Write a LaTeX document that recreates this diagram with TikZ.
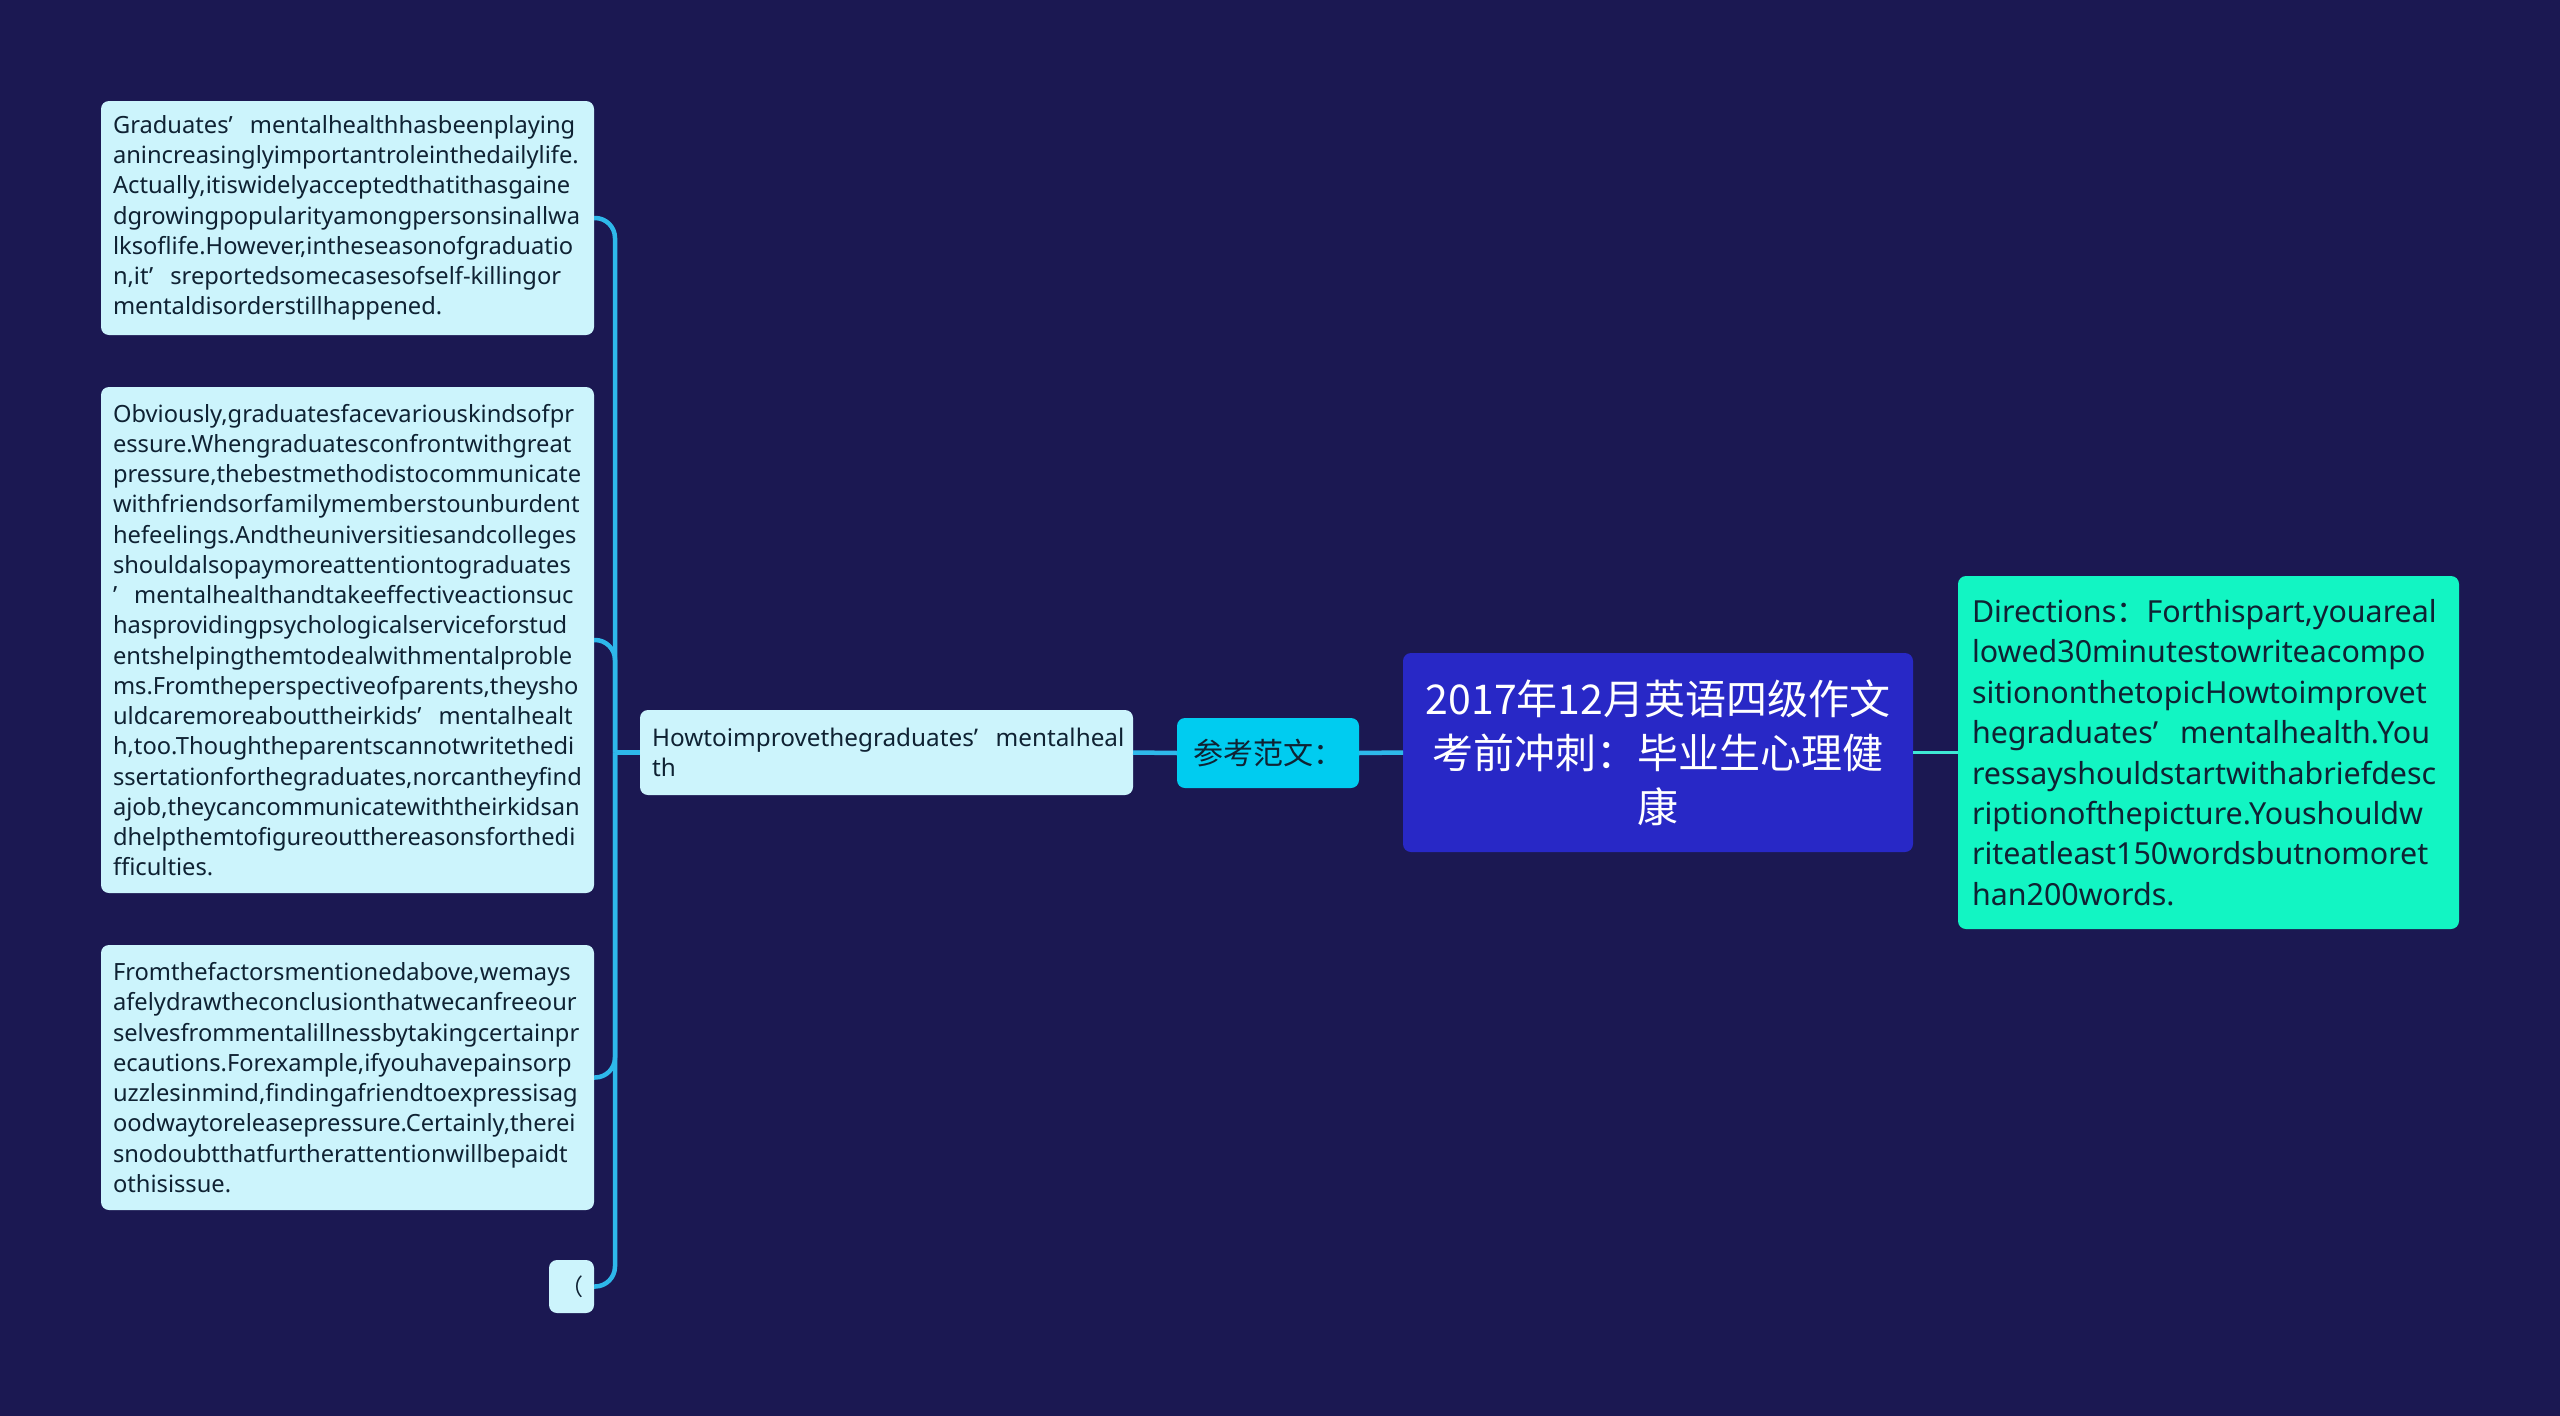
\documentclass[tikz,border=0pt]{standalone}
\usepackage{fontspec}
\setmainfont{Noto Sans}
\newfontfamily\cjk{Noto Sans CJK SC}
\newcommand\fq{’\kern0.72em}
\definecolor{bgc}{HTML}{1B1852}
\definecolor{leafc}{HTML}{CCF4FC}
\definecolor{linec}{HTML}{2EB8EA}
\definecolor{dirline}{HTML}{3FE8D5}
\definecolor{rootc}{HTML}{2828C6}
\definecolor{refc}{HTML}{00CCF0}
\definecolor{dirc}{HTML}{12F5C3}
\definecolor{txtc}{HTML}{0F2233}
\tikzset{
  box/.style={anchor=north west, rounded corners=8pt, inner ysep=0pt, outer sep=0pt},
  leaf/.style={box, fill=leafc, text=txtc, inner xsep=12pt, text width=469pt, minimum width=493pt, align=left,
     font=\fontsize{23.7}{30.25}\selectfont},
  conn/.style={draw=linec, line width=4.5pt},
}
\begin{document}
\begin{tikzpicture}[x=1pt,y=-1pt]
\fill[bgc] (0,0) rectangle (2560,1416);
\useasboundingbox (0,0) rectangle (2560,1416);

\node[box, fill=rootc, text=white, text width=480pt, inner xsep=15pt, minimum height=199pt, align=center,
  font=\cjk\fontsize{41}{54}\selectfont] (root) at (1403,653)
  {2017年12月英语四级作文\\考前冲刺：毕业生心理健\\康};

\node[box, fill=dirc, text=txtc, text width=473pt, inner xsep=14pt, minimum height=353pt, align=left,
  font=\fontsize{30.4}{40.4}\selectfont] (dir) at (1958,576)
  {Directions{\cjk ：}Forthispart,youareal\\
   lowed30minutestowriteacompo\\
   sitiononthetopicHowtoimprovet\\
   hegraduates\fq mentalhealth.You\\
   ressayshouldstartwithabriefdesc\\
   riptionofthepicture.Youshouldw\\
   riteatleast150wordsbutnomoret\\
   han200words.};

\node[box, fill=refc, text=txtc, minimum width=182pt, minimum height=70pt, inner xsep=14pt, align=left,
  font=\cjk\fontsize{30}{34}\selectfont] (ref) at (1177,718) {参考范文：};

\node[leaf, minimum height=85pt, font=\fontsize{24.3}{30.25}\selectfont] (how) at (640,710)
  {Howtoimprovethegraduates\fq mentalheal\\th};

\node[leaf, minimum height=234pt] (l1) at (101,101)
  {Graduates\fq mentalhealthhasbeenplaying\\
   anincreasinglyimportantroleinthedailylife.\\
   Actually,itiswidelyacceptedthatithasgaine\\
   dgrowingpopularityamongpersonsinallwa\\
   lksoflife.However,intheseasonofgraduatio\\
   n,it\fq sreportedsomecasesofself-killingor\\
   mentaldisorderstillhappened.};

\node[leaf, minimum height=506pt] (l2) at (101,387)
  {Obviously,graduatesfacevariouskindsofpr\\
   essure.Whengraduatesconfrontwithgreat\\
   pressure,thebestmethodistocommunicate\\
   withfriendsorfamilymemberstounburdent\\
   hefeelings.Andtheuniversitiesandcolleges\\
   shouldalsopaymoreattentiontograduates\\
   \fq mentalhealthandtakeeffectiveactionsuc\\
   hasprovidingpsychologicalserviceforstud\\
   entshelpingthemtodealwithmentalproble\\
   ms.Fromtheperspectiveofparents,theysho\\
   uldcaremoreabouttheirkids\fq mentalhealt\\
   h,too.Thoughtheparentscannotwritethedi\\
   ssertationforthegraduates,norcantheyfind\\
   ajob,theycancommunicatewiththeirkidsan\\
   dhelpthemtofigureoutthereasonsforthedi\\
   fficulties.};

\node[leaf, minimum height=265pt] (l3) at (101,945)
  {Fromthefactorsmentionedabove,wemays\\
   afelydrawtheconclusionthatwecanfreeour\\
   selvesfrommentalillnessbytakingcertainpr\\
   ecautions.Forexample,ifyouhavepainsorp\\
   uzzlesinmind,findingafriendtoexpressisag\\
   oodwaytoreleasepressure.Certainly,therei\\
   snodoubtthatfurtherattentionwillbepaidt\\
   othisissue.};

\node[box, fill=leafc, text=txtc, minimum width=45pt, minimum height=53pt, inner xsep=0pt,
  font=\cjk\fontsize{23}{28}\selectfont] (l4) at (549,1260) {（};

\draw[draw=dirline, line width=3.5pt] (root.east) -- (dir.west);
\draw[conn] (root.west) -- (ref.east);
\draw[conn] (ref.west) -- (how.east);
\coordinate (j) at (615,752.5);
\draw[conn] (how.west) -- (j);
\draw[conn, rounded corners=20pt] (j) |- (l1.east);
\draw[conn, rounded corners=20pt] (j) |- (l2.east);
\draw[conn, rounded corners=20pt] (j) |- (l3.east);
\draw[conn, rounded corners=20pt] (j) |- (l4.east);
\end{tikzpicture}
\end{document}
